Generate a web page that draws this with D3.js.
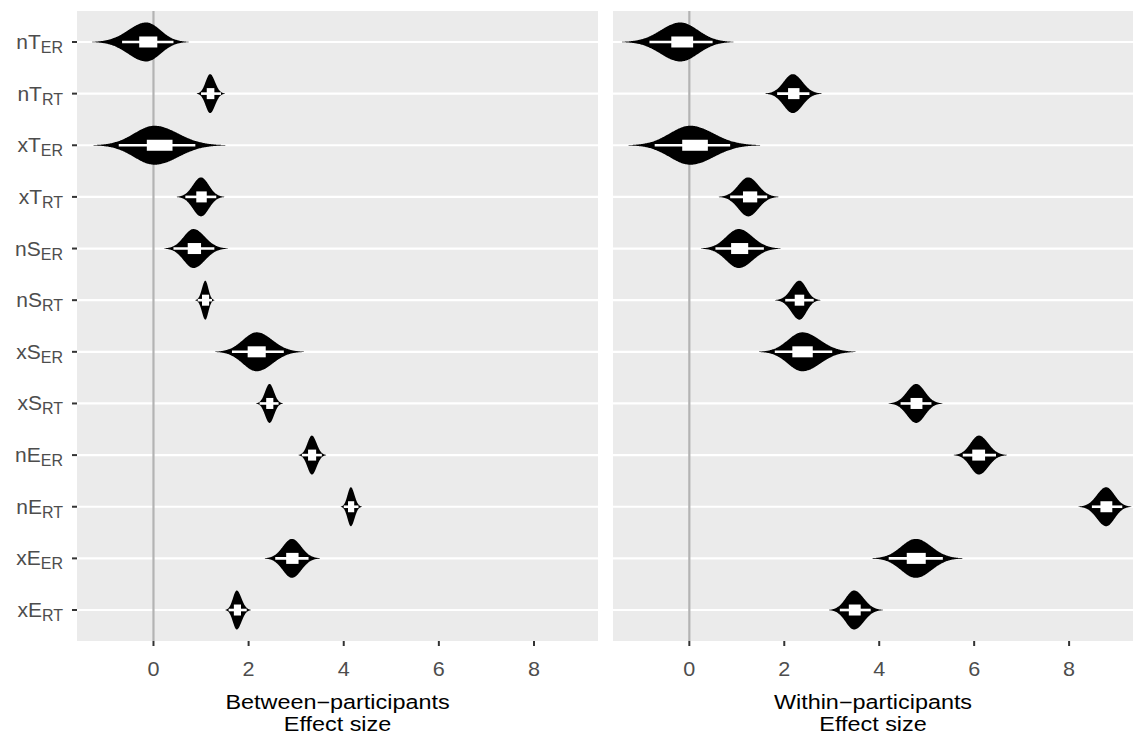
<!DOCTYPE html>
<html>
<head>
<meta charset="utf-8">
<script src="https://cdn.jsdelivr.net/npm/d3@7"></script>
<style>
  body { margin: 0; background: #fff; }
  svg text { font-family: "Liberation Sans", Arial, sans-serif; }
</style>
</head>
<body>
<svg id="chart" width="1138" height="743"></svg>
<script>
// conditions, top to bottom
const categories = ['nT_ER', 'nT_RT', 'xT_ER', 'xT_RT', 'nS_ER', 'nS_RT',
                    'xS_ER', 'xS_RT', 'nE_ER', 'nE_RT', 'xE_ER', 'xE_RT']
const labelMain = ['nT', 'nT', 'xT', 'xT', 'nS', 'nS', 'xS', 'xS', 'nE', 'nE', 'xE', 'xE']
const labelSub = ['ER', 'RT', 'ER', 'RT', 'ER', 'RT', 'ER', 'RT', 'ER', 'RT', 'ER', 'RT']
const xTicks = [0, 2, 4, 6, 8]

// between-participants effect sizes
const betweenPeak = [-0.15, 1.19, 0.02, 1.00, 0.84, 1.09, 2.17, 2.44, 3.33, 4.15, 2.91, 1.75]
const betweenQ1   = [-0.30, 1.12, -0.14, 0.90, 0.72, 1.02, 1.98, 2.37, 3.25, 4.09, 2.79, 1.69]
const betweenQ3   = [0.08, 1.28, 0.40, 1.12, 1.00, 1.17, 2.36, 2.52, 3.42, 4.22, 3.05, 1.84]
const betweenWLo  = [-0.66, 1.00, -0.73, 0.67, 0.42, 0.93, 1.65, 2.23, 3.12, 4.00, 2.56, 1.58]
const betweenWHi  = [0.42, 1.42, 0.88, 1.32, 1.28, 1.23, 2.74, 2.63, 3.54, 4.31, 3.26, 1.96]
const betweenMin  = [-1.29, 0.91, -1.26, 0.49, 0.23, 0.88, 1.30, 2.16, 3.05, 3.94, 2.34, 1.51]
const betweenMax  = [0.74, 1.50, 1.51, 1.49, 1.56, 1.28, 3.16, 2.72, 3.63, 4.38, 3.50, 2.05]

// within-participants effect sizes
const withinPeak = [-0.19, 2.18, 0.02, 1.24, 1.04, 2.32, 2.38, 4.78, 6.10, 8.78, 4.77, 3.47]
const withinQ1   = [-0.38, 2.08, -0.15, 1.13, 0.88, 2.22, 2.17, 4.66, 5.96, 8.66, 4.58, 3.36]
const withinQ3   = [0.08, 2.32, 0.39, 1.43, 1.24, 2.42, 2.60, 4.91, 6.23, 8.91, 4.98, 3.61]
const withinWLo  = [-0.84, 1.85, -0.73, 0.86, 0.55, 2.02, 1.80, 4.45, 5.76, 8.48, 4.20, 3.17]
const withinWHi  = [0.49, 2.53, 0.86, 1.64, 1.57, 2.62, 3.01, 5.10, 6.46, 9.12, 5.34, 3.82]
const withinMin  = [-1.42, 1.60, -1.28, 0.62, 0.25, 1.81, 1.47, 4.20, 5.57, 8.20, 3.85, 2.94]
const withinMax  = [0.93, 2.79, 1.49, 1.88, 1.92, 2.76, 3.50, 5.33, 6.69, 9.31, 5.76, 4.08]

const svg = d3.select('#chart')
const panelTop = 11, panelBottom = 641

const panels = [
    { title: 'Between\u2212participants', x0: 77, x1: 598, showY: true,
      peak: betweenPeak, q1: betweenQ1, q3: betweenQ3, wlo: betweenWLo, whi: betweenWHi, min: betweenMin, max: betweenMax },
    { title: 'Within\u2212participants', x0: 613, x1: 1133, showY: false,
      peak: withinPeak, q1: withinQ1, q3: withinQ3, wlo: withinWLo, whi: withinWHi, min: withinMin, max: withinMax }
]

const y = d3.scalePoint().domain(categories).range([panelTop, panelBottom]).padding(0.6)
const halfMax = 19.5

// draws one panel: background, grid, zero line, violins, boxes, axes
function drawPanel(p) {
    const x = d3.scaleLinear().domain([-1.608, 9.346]).range([p.x0, p.x1])
    const g = svg.append('g')

    g.append('rect')
        .attr('x', p.x0).attr('y', panelTop)
        .attr('width', p.x1 - p.x0).attr('height', panelBottom - panelTop)
        .attr('fill', '#EBEBEB')

    g.selectAll('line.grid')
        .data(categories)
        .enter()
        .append('line')
        .attr('class', 'grid')
        .attr('x1', p.x0).attr('x2', p.x1)
        .attr('y1', d => y(d)).attr('y2', d => y(d))
        .attr('stroke', '#fff')
        .attr('stroke-width', 2.2)

    g.append('line')
        .attr('x1', x(0)).attr('x2', x(0))
        .attr('y1', panelTop).attr('y2', panelBottom)
        .attr('stroke', '#B3B3B3')
        .attr('stroke-width', 2.2)

    const area = d3.area()
        .x(d => x(d.v))
        .y0(d => d.c - d.w)
        .y1(d => d.c + d.w)
        .curve(d3.curveBasis)

    categories.forEach((cat, i) => {
        const c = y(cat)
        // density outline: each side tapers to the tail end
        const sL = (p.peak[i] - p.min[i]) / 3.0
        const sR = (p.max[i] - p.peak[i]) / 3.0
        const pts = d3.range(0, 161).map(k => {
            const v = p.min[i] + (p.max[i] - p.min[i]) * k / 160
            const z = (v - p.peak[i]) / (v < p.peak[i] ? sL : sR)
            return { v: v, c: c, w: halfMax * Math.exp(-0.5 * z * z) }
        })
        g.append('path')
            .attr('d', area(pts))
            .attr('fill', '#000')

        g.append('line')
            .attr('x1', x(p.wlo[i])).attr('x2', x(p.whi[i]))
            .attr('y1', c).attr('y2', c)
            .attr('stroke', '#fff')
            .attr('stroke-width', 2.6)

        g.append('rect')
            .attr('x', x(p.q1[i]))
            .attr('y', c - 5.5)
            .attr('width', x(p.q3[i]) - x(p.q1[i]))
            .attr('height', 11)
            .attr('fill', '#fff')
    })

    // x axis
    const xa = g.append('g')
    xa.selectAll('line')
        .data(xTicks)
        .enter()
        .append('line')
        .attr('x1', d => x(d)).attr('x2', d => x(d))
        .attr('y1', panelBottom).attr('y2', panelBottom + 5)
        .attr('stroke', '#333').attr('stroke-width', 2)
    xa.selectAll('text')
        .data(xTicks)
        .enter()
        .append('text')
        .attr('transform', d => `translate(${x(d)},676) scale(1.08,1)`)
        .attr('text-anchor', 'middle')
        .attr('fill', '#4D4D4D')
        .attr('font-size', 20)
        .text(d => d)

    // axis title, two lines; glyphs a little wider than Liberation Sans
    const cx = (p.x0 + p.x1) / 2
    g.append('text')
        .attr('transform', `translate(${cx},709) scale(1.2,1)`)
        .attr('text-anchor', 'middle')
        .attr('font-size', 19.5)
        .attr('fill', '#000')
        .text(p.title)
    g.append('text')
        .attr('transform', `translate(${cx},731) scale(1.2,1)`)
        .attr('text-anchor', 'middle')
        .attr('font-size', 19.5)
        .attr('fill', '#000')
        .text('Effect size')

    if (p.showY) {
        const ya = g.append('g')
        ya.selectAll('line')
            .data(categories)
            .enter()
            .append('line')
            .attr('x1', p.x0 - 5).attr('x2', p.x0)
            .attr('y1', d => y(d)).attr('y2', d => y(d))
            .attr('stroke', '#333').attr('stroke-width', 2)
        const lbl = ya.selectAll('text')
            .data(categories)
            .enter()
            .append('text')
            .attr('x', p.x0 - 14)
            .attr('y', d => y(d) + 7)
            .attr('text-anchor', 'end')
            .attr('fill', '#4D4D4D')
            .attr('font-size', 21)
        lbl.append('tspan').text((d, i) => labelMain[i])
        lbl.append('tspan')
            .attr('font-size', 16)
            .attr('dy', 4)
            .text((d, i) => labelSub[i])
    }
}

panels.forEach(drawPanel)
</script>
</body>
</html>
